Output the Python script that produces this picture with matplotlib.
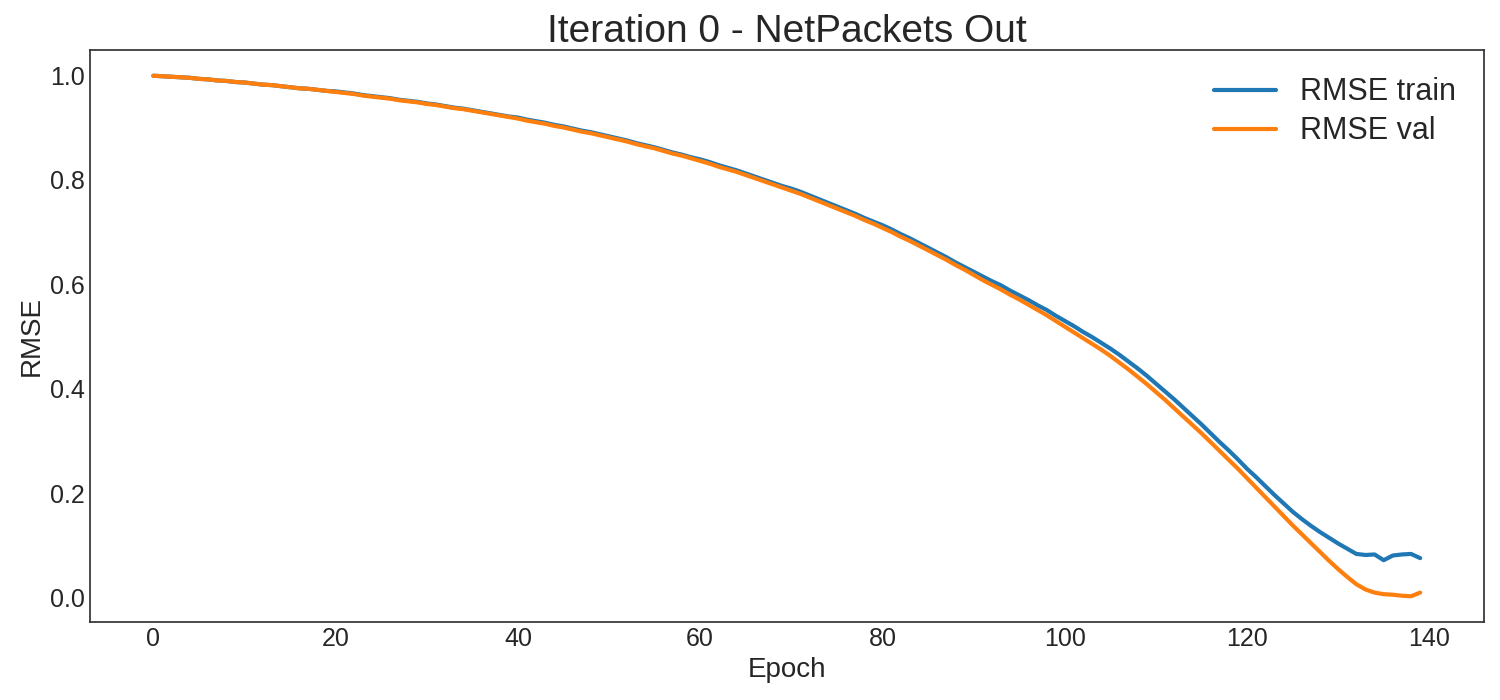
import matplotlib
matplotlib.use("Agg")
import matplotlib.pyplot as plt

epochs = list(range(140))

rmse_train = [
    0.999, 0.998, 0.997, 0.996, 0.995, 0.993, 0.992, 0.990, 0.989, 0.987,
    0.986, 0.984, 0.982, 0.981, 0.979, 0.977, 0.975, 0.974, 0.972, 0.970,
    0.969, 0.967, 0.965, 0.962, 0.960, 0.958, 0.956, 0.953, 0.951, 0.949,
    0.946, 0.944, 0.941, 0.938, 0.936, 0.933, 0.930, 0.927, 0.924, 0.921,
    0.919, 0.915, 0.912, 0.909, 0.905, 0.902, 0.898, 0.894, 0.891, 0.887,
    0.883, 0.879, 0.875, 0.870, 0.866, 0.862, 0.857, 0.852, 0.848, 0.843,
    0.839, 0.834, 0.828, 0.823, 0.818, 0.812, 0.806, 0.800, 0.794, 0.788,
    0.783, 0.777, 0.770, 0.763, 0.756, 0.749, 0.742, 0.735, 0.727, 0.720,
    0.713, 0.705, 0.696, 0.688, 0.679, 0.670, 0.661, 0.652, 0.642, 0.633,
    0.624, 0.615, 0.606, 0.598, 0.588, 0.579, 0.570, 0.560, 0.551, 0.540,
    0.530, 0.520, 0.509, 0.499, 0.488, 0.477, 0.465, 0.452, 0.439, 0.425,
    0.410, 0.395, 0.380, 0.364, 0.348, 0.332, 0.315, 0.298, 0.282, 0.265,
    0.247, 0.231, 0.214, 0.197, 0.181, 0.165, 0.151, 0.138, 0.126, 0.115,
    0.104, 0.094, 0.084, 0.082, 0.083, 0.072, 0.081, 0.083, 0.084, 0.076,
]

rmse_val = [
    0.999, 0.998, 0.997, 0.996, 0.995, 0.993, 0.992, 0.990, 0.989, 0.987,
    0.986, 0.984, 0.982, 0.981, 0.979, 0.977, 0.975, 0.974, 0.972, 0.970,
    0.968, 0.966, 0.964, 0.961, 0.959, 0.957, 0.955, 0.952, 0.950, 0.948,
    0.945, 0.943, 0.940, 0.937, 0.935, 0.932, 0.929, 0.926, 0.923, 0.920,
    0.917, 0.913, 0.910, 0.907, 0.903, 0.900, 0.896, 0.892, 0.889, 0.885,
    0.881, 0.877, 0.873, 0.868, 0.864, 0.860, 0.855, 0.850, 0.846, 0.841,
    0.836, 0.831, 0.825, 0.820, 0.815, 0.809, 0.803, 0.797, 0.791, 0.785,
    0.779, 0.773, 0.766, 0.759, 0.752, 0.745, 0.738, 0.731, 0.723, 0.716,
    0.708, 0.700, 0.691, 0.683, 0.674, 0.665, 0.656, 0.647, 0.637, 0.628,
    0.618, 0.608, 0.599, 0.590, 0.580, 0.571, 0.561, 0.551, 0.541, 0.530,
    0.519, 0.508, 0.497, 0.486, 0.475, 0.463, 0.450, 0.437, 0.423, 0.409,
    0.394, 0.379, 0.363, 0.347, 0.331, 0.315, 0.298, 0.281, 0.264, 0.247,
    0.229, 0.211, 0.193, 0.175, 0.157, 0.139, 0.122, 0.105, 0.088, 0.071,
    0.055, 0.040, 0.026, 0.016, 0.010, 0.007, 0.006, 0.004, 0.003, 0.010,
]

title = "Iteration 0 - NetPackets Out"
series_labels = ["RMSE train", "RMSE val"]

plt.style.use("seaborn-v0_8-white")
plt.rcParams["font.family"] = ["Liberation Sans", "DejaVu Sans"]

fig, ax = plt.subplots(figsize=(15, 7), dpi=100)
fig.subplots_adjust(left=0.06, right=0.989, top=0.929, bottom=0.111)

ax.plot(epochs, rmse_train, color="#1f77b4", linewidth=3, label=series_labels[0])
ax.plot(epochs, rmse_val, color="#ff7f0e", linewidth=3, label=series_labels[1])

ax.set_title(title, fontsize=28, color="#262626", pad=5)
ax.set_xlabel("Epoch", fontsize=20, color="#262626", labelpad=4)
ax.set_ylabel("RMSE", fontsize=20, color="#262626", labelpad=4)
ax.tick_params(axis="both", labelsize=18, colors="#262626")
for s in ax.spines.values():
    s.set_color("#333333")
    s.set_linewidth(1.25)

ax.legend(loc="upper right", fontsize=22, frameon=False, handlelength=2.0,
          labelspacing=0.3, borderaxespad=0.5)

fig.savefig("out.png", dpi=100)
